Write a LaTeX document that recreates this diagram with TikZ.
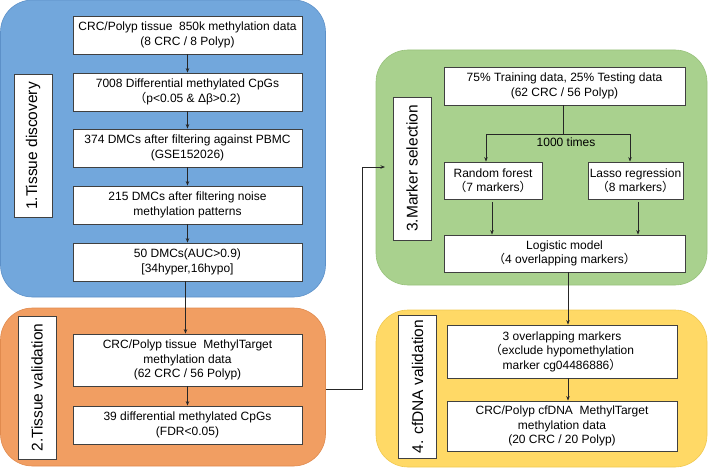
\documentclass[tikz,border=0pt]{standalone}
\usepackage{fontspec}
\setmainfont{Liberation Sans}
\newfontfamily\cjk{Noto Sans CJK SC}
\usetikzlibrary{arrows.meta}
\newcommand{\flp}{{\cjk （}}
\newcommand{\frp}{{\cjk ）}}
\definecolor{pblue}{HTML}{72A7DC}
\definecolor{pbluel}{HTML}{5C90C8}
\definecolor{porange}{HTML}{F19E62}
\definecolor{porangel}{HTML}{E08A4E}
\definecolor{pgreen}{HTML}{A9D18E}
\definecolor{pgreenl}{HTML}{98C27C}
\definecolor{pyellow}{HTML}{FFD966}
\definecolor{pyellowl}{HTML}{F0C850}
\tikzset{
  panel/.style={rounded corners=32pt, line width=0.6pt, inner sep=0pt},
  box/.style={draw=black!75, fill=white, line width=0.8pt, align=center, inner sep=0pt,
    font=\fontsize{12}{14.5}\selectfont},
  lab/.style={draw=black!75, fill=white, line width=0.8pt, rotate=90, inner sep=0pt,
    minimum width=143pt, minimum height=38pt, font=\fontsize{15.5}{18}\selectfont},
  arr/.style={draw=black!85, line width=0.7pt, -{Stealth[length=4.5pt,width=3.5pt]}},
  ln/.style={draw=black!85, line width=0.7pt}
}
\begin{document}
\begin{tikzpicture}[x=1pt,y=-1pt]
\useasboundingbox (0,0) rectangle (708,468);
% panels
\node[panel, draw=pbluel, fill=pblue, minimum width=325pt, minimum height=297pt] (bp) at (163,148.5) {};
\node[panel, draw=porangel, fill=porange, minimum width=325pt, minimum height=158pt] (op) at (163,387) {};
\node[panel, draw=pgreenl, fill=pgreen, minimum width=331pt, minimum height=235pt] (gp) at (541.5,167.5) {};
\node[panel, draw=pyellowl, fill=pyellow, minimum width=331pt, minimum height=157pt] (yp) at (541.5,388.5) {};
% labels
\node[lab] (l1) at (33,146) {1.Tissue discovery};
\node[lab] (l2) at (37,387.5) {2.Tissue validation};
\node[lab] (l3) at (412,168.5) {3.Marker selection};
\node[lab] (l4) at (417.5,386.5) {4. cfDNA validation};
% panel 1
\node[box, minimum width=229pt, minimum height=38pt] (b1) at (187.5,35) {CRC/Polyp tissue\ \ 850k methylation data\\(8 CRC / 8 Polyp)};
\node[box, minimum width=229pt, minimum height=38pt] (b2) at (187.5,92) {7008 Differential methylated CpGs\\\flp p<0.05 \& Δβ>0.2)};
\node[box, minimum width=229pt, minimum height=38pt] (b3) at (187.5,148) {374 DMCs after filtering against PBMC\\(GSE152026)};
\node[box, minimum width=229pt, minimum height=38pt] (b4) at (187.5,205) {215 DMCs after filtering noise\\methylation patterns};
\node[box, minimum width=229pt, minimum height=38pt] (b5) at (187.5,262) {50 DMCs(AUC>0.9)\\{[}34hyper,16hypo{]}};
% panel 2
\node[box, minimum width=229pt, minimum height=52pt] (b6) at (187.5,360) {CRC/Polyp tissue\ \ MethylTarget\\methylation data\\(62 CRC / 56 Polyp)};
\node[box, minimum width=229pt, minimum height=38pt] (b7) at (187.5,425) {39 differential methylated CpGs\\(FDR<0.05)};
% panel 3
\node[box, minimum width=241pt, minimum height=38pt] (b8) at (564.5,86) {75\% Training data, 25\% Testing data\\(62 CRC / 56 Polyp)};
\node[box, minimum width=98pt, minimum height=37pt] (rf) at (493,180.5) {Random forest\\\flp 7 markers\frp};
\node[box, minimum width=95pt, minimum height=37pt] (la) at (635.5,180.5) {Lasso regression\\\flp 8 markers\frp};
\node[box, minimum width=241pt, minimum height=37pt] (lg) at (564.5,253.5) {Logistic model\\\flp 4 overlapping markers\frp};
% panel 4
\node[box, minimum width=230pt, minimum height=53pt] (b9) at (562,351.5) {3 overlapping markers\\\flp exclude hypomethylation\\marker cg04486886\frp};
\node[box, minimum width=230pt, minimum height=50pt] (b10) at (562,426) {CRC/Polyp cfDNA\ \ MethylTarget\\methylation data\\(20 CRC / 20 Polyp)};
% connectors panel 1
\draw[arr] (b1) -- (b2);
\draw[arr] (b2) -- (b3);
\draw[arr] (b3) -- (b4);
\draw[arr] (b4) -- (b5);
\draw[arr] ([xshift=-2pt]b5.south) -- ([xshift=-2pt]b6.north);
\draw[arr] (b6) -- (b7);
% orange -> marker selection
\coordinate (c1) at (362,389);
\coordinate (mt) at (385,167);
\draw[arr] (op.east |- c1) -- (c1) |- (mt);
% panel 3
\coordinate (sp) at (563,134);
\draw[ln] (b8.south -| sp) -- (sp);
\draw[arr] (sp) -| ([xshift=-7pt]rf.north);
\draw[arr] (sp) -| ([xshift=-5.5pt]la.north);
\node[font=\fontsize{12}{14}\selectfont] (t1000) at (566,142.5) {1000 times};
\draw[arr] ([xshift=-1pt,yshift=-3pt]rf.south) -- ([xshift=-1pt]rf.south |- lg.north);
\draw[arr] ([xshift=2.5pt,yshift=-3pt]la.south) -- ([xshift=2.5pt]la.south |- lg.north);
\draw[arr] ([xshift=3.5pt]lg.south) -- ([xshift=3.5pt]lg.south |- b9.north);
\draw[arr] ([xshift=6pt]b9.south) -- ([xshift=6pt]b9.south |- b10.north);
\end{tikzpicture}
\end{document}
